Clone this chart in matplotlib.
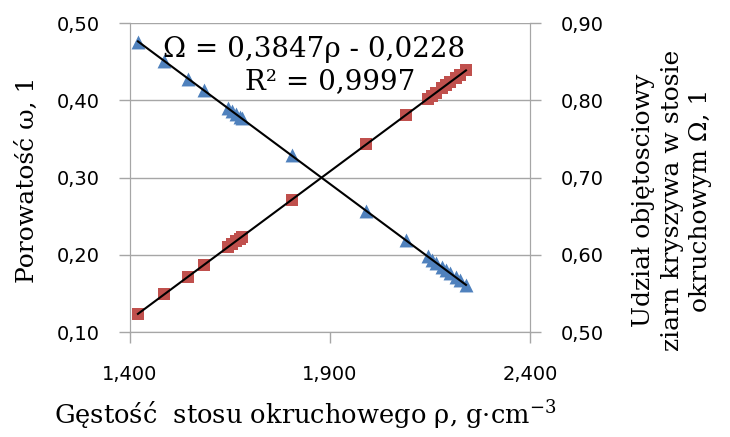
import numpy as np
import matplotlib.pyplot as plt

# gestosc stosu (g/cm3)
rho = [1.420, 1.485, 1.545, 1.585, 1.645, 1.655, 1.665, 1.675, 1.680, 1.805,
       1.990, 2.090, 2.145, 2.155, 2.165, 2.180, 2.190, 2.200, 2.215, 2.225, 2.240]
# porowatosc (lewa os)
omega = [0.476, 0.451, 0.428, 0.413, 0.390, 0.386, 0.382, 0.379, 0.377, 0.329,
         0.257, 0.219, 0.198, 0.194, 0.190, 0.184, 0.180, 0.176, 0.171, 0.167, 0.161]
# udzial objetosciowy (prawa os)
Omega = [0.524, 0.549, 0.572, 0.587, 0.610, 0.614, 0.618, 0.621, 0.623, 0.671,
         0.743, 0.781, 0.802, 0.806, 0.810, 0.816, 0.820, 0.824, 0.829, 0.833, 0.839]

x_ticks = [1.4, 1.9, 2.4]
x_labels = ['1,400', '1,900', '2,400']
yl_ticks = [0.10, 0.20, 0.30, 0.40, 0.50]
yr_ticks = [0.50, 0.60, 0.70, 0.80, 0.90]

serif = 'DejaVu Serif'
sans = 'DejaVu Sans'
gray = '#a6a6a6'
plt.rcParams['mathtext.fontset'] = 'dejavuserif'

fig = plt.figure(figsize=(7.3, 4.37), dpi=100)
ax = fig.add_axes([0.178, 0.240, 0.548, 0.707])
ax2 = ax.twinx()

r = np.array(rho)
xs = np.array([r.min(), r.max()])

ax.scatter(rho, omega, marker='^', s=100, color='#4F81BD', zorder=3, linewidths=0)
k = np.polyfit(r, omega, 1)
ax.plot(xs, np.polyval(k, xs), color='black', lw=1.5, zorder=4)

ax2.scatter(rho, Omega, marker='s', s=80, color='#C0504D', zorder=3, linewidths=0)
k2 = np.polyfit(r, Omega, 1)
ax2.plot(xs, np.polyval(k2, xs), color='black', lw=1.5, zorder=4)

ax.set_xlim(1.4, 2.4)
ax.set_ylim(0.10, 0.50)
ax2.set_ylim(0.50, 0.90)
ax.set_xticks(x_ticks)
ax.set_xticklabels(x_labels)
ax.set_yticks(yl_ticks)
ax.set_yticklabels([f'{v:.2f}'.replace('.', ',') for v in yl_ticks])
ax2.set_yticks(yr_ticks)
ax2.set_yticklabels([f'{v:.2f}'.replace('.', ',') for v in yr_ticks])

ax.yaxis.grid(True, color=gray, lw=1)
ax.set_axisbelow(True)
for a in (ax, ax2):
    for s in a.spines.values():
        s.set_color(gray)
    a.spines['top'].set_visible(False)
    a.tick_params(colors=gray, length=8, width=1, labelcolor='black', labelsize=14)
    for t in a.get_xticklabels() + a.get_yticklabels():
        t.set_family(sans)
ax.tick_params(axis='y', pad=14)
ax2.tick_params(axis='y', pad=14)
ax.tick_params(axis='x', pad=16)

fig.text(305 / 730, 1 - 415 / 437, 'Gęstość  stosu okruchowego ρ, g·cm$^{-3}$',
         family=serif, fontsize=18.5, ha='center', va='center')
fig.text(27 / 730, 1 - 180 / 437, 'Porowatość ω, 1', family=serif, fontsize=18,
         rotation=90, ha='center', va='center')
fig.text(672 / 730, 1 - 200 / 437,
         'Udział objętosciowy\nziarn kryszywa w stosie\nokruchowym Ω, 1',
         family=serif, fontsize=18, rotation=90, ha='center', va='center',
         multialignment='center', linespacing=1.3)

ax.text(0.46, 0.915, 'Ω = 0,3847ρ - 0,0228', transform=ax.transAxes, family=serif,
        fontsize=20, ha='center', va='center', zorder=5)
ax.text(0.50, 0.81, 'R² = 0,9997', transform=ax.transAxes, family=serif,
        fontsize=20, ha='center', va='center', zorder=5)

fig.savefig('out.png', dpi=100)
